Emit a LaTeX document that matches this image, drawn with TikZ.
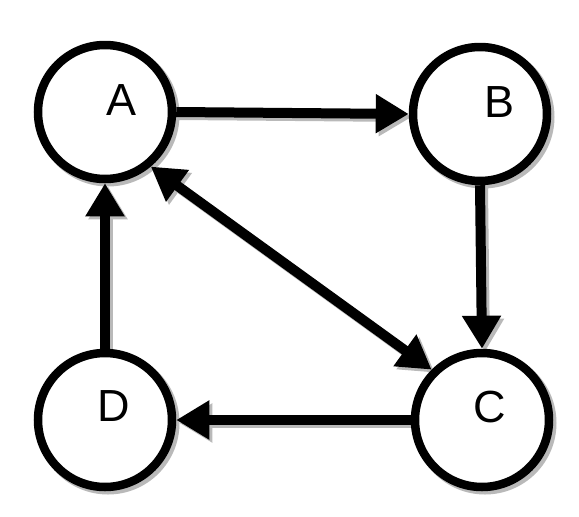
\documentclass[tikz,border=0pt]{standalone}
\usepackage{fontspec}
\setmainfont{Liberation Sans}
\usetikzlibrary{arrows.meta,backgrounds}
\begin{document}
\begin{tikzpicture}[x=1pt,y=-1pt,
  vert/.style={circle, draw=black, line width=8.5pt, fill=white, minimum size=134pt, inner sep=0pt},
  lbl/.style={font=\fontsize{45}{45}\selectfont},
  conn/.style={line width=10pt, draw=black},
  shadowline/.style={draw=gray!55, line width=9pt},
  tip/.style={-{Triangle[length=33pt,width=37pt]}},
  tips/.style={{Triangle[length=33pt,width=37pt]}-{Triangle[length=33pt,width=37pt]}}
]
\useasboundingbox (0,0) rectangle (579,517);
\node[vert, label={[lbl, shift={(17pt,12pt)}]center:A}] (A) at (105,112) {};
\node[vert, label={[lbl, shift={(20pt,12pt)}]center:B}] (B) at (480,114) {};
\node[vert, label={[lbl, shift={(8pt,13pt)}]center:C}] (C) at (482,420) {};
\node[vert, label={[lbl, shift={(9pt,14pt)}]center:D}] (D) at (105,420) {};
\draw[conn, tip] (A.east) -- (B.west);
\draw[conn, tip] (B.south) -- (C.north);
\draw[conn, tip] (C.west) -- (D.east);
\draw[conn, tip] (D.north) -- (A.south);
\draw[conn, tips] (A.-50) -- (C.135);
\begin{scope}[on background layer]
  \foreach \n in {A,B,C,D}
    \draw[shadowline] ([shift={(3pt,-3pt)}]\n.center) circle (67pt);
  \draw[conn, draw=gray!55, tip] ([shift={(3pt,-3pt)}]A.east) -- ([shift={(3pt,-3pt)}]B.west);
  \draw[conn, draw=gray!55, tip] ([shift={(3pt,-3pt)}]B.south) -- ([shift={(3pt,-3pt)}]C.north);
  \draw[conn, draw=gray!55, tip] ([shift={(3pt,-3pt)}]C.west) -- ([shift={(3pt,-3pt)}]D.east);
  \draw[conn, draw=gray!55, tip] ([shift={(3pt,-3pt)}]D.north) -- ([shift={(3pt,-3pt)}]A.south);
  \draw[conn, draw=gray!55, tips] ([shift={(3pt,-3pt)}]A.-50) -- ([shift={(3pt,-3pt)}]C.135);
\end{scope}
\end{tikzpicture}
\end{document}
